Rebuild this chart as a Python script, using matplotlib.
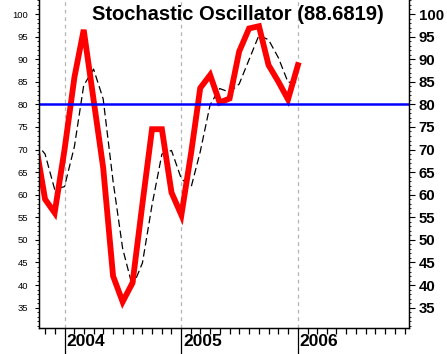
import numpy as np
import matplotlib
matplotlib.use("Agg")
import matplotlib.pyplot as plt
import matplotlib.dates as mdates
import matplotlib.transforms as mtransforms

plt.rcParams['font.family'] = ['Liberation Sans', 'DejaVu Sans']

# monthly values, Oct 2003 .. Jan 2006
months = np.arange('2003-10', '2006-02', dtype='datetime64[M]').astype('datetime64[D]')
stoch_k = [72, 59, 56, 70, 86, 96.5, 81, 66, 42, 36.3, 40.5, 58, 74.5, 74.5,
           60.5, 55.5, 69.5, 83.6, 86.5, 80.4, 81.3, 91.7, 96.8, 97.3, 88.7,
           85, 81.1, 88.68]
stoch_d = [71.7, 69, 61.2, 61.8, 70.7, 84.2, 87.8, 81.2, 63, 48.1, 39.6, 44.9,
           57.7, 69, 69.8, 63.5, 61.8, 69.5, 79.9, 83.5, 82.7, 84.5, 89.9, 95.3,
           94.3, 90.3, 84.9, 84.9]
last_value = 88.6819
signal_level = 80
years = ['2004', '2005', '2006']
y_ticks = list(range(35, 101, 5))

fig = plt.figure(figsize=(4.47, 3.54), dpi=100)
ax = fig.add_axes([39 / 447, 1 - 328 / 354, 370 / 447, 328 / 354])

x = mdates.date2num(months)
ax.plot(x, stoch_d, color='black', lw=0.9, ls=(0, (6, 3)), zorder=3)
ax.plot(x, stoch_k, color='#ff0000', lw=4.2, solid_joinstyle='miter', zorder=4)
ax.axhline(signal_level, color='#0000ff', lw=1.8, zorder=5)

year_nums = [mdates.date2num(np.datetime64(y + '-01-01')) for y in years]
for yn in year_nums:
    ax.axvline(yn, color='#b4b4b4', lw=0.9, ls=(0, (3, 3)), zorder=1)

ax.set_xlim(mdates.date2num(np.datetime64('2003-10-13')), mdates.date2num(np.datetime64('2006-12-15')))
ax.set_ylim(30.5, 103.1)

# x axis: monthly minor ticks, long year ticks
ax.xaxis.set_minor_locator(mdates.MonthLocator())
ax.set_xticks(year_nums)
ax.set_xticklabels([])
ax.tick_params(axis='x', which='minor', length=4.3, width=0.9, direction='out')
ax.tick_params(axis='x', which='major', length=19, width=0.9, direction='out')
trans = mtransforms.blended_transform_factory(ax.transData, fig.transFigure)
for yn, lab in zip(year_nums, years):
    ax.text(yn + 5, 12 / 354, lab, transform=trans, fontsize=12.5, fontweight='bold',
            ha='left', va='center')

# y axis: small labels left, bold labels right
ax.set_yticks(y_ticks)
ax.set_yticks(range(31, 104), minor=True)
ax.set_yticklabels([str(v) for v in y_ticks], fontsize=6.8)
ax.tick_params(axis='y', which='major', length=3, width=0.8, pad=5, labelsize=6.8)
ax.tick_params(axis='y', which='minor', length=1.6, width=0.6)

ax2 = ax.twinx()
ax2.set_ylim(ax.get_ylim())
ax2.set_yticks(y_ticks)
ax2.set_yticks(range(31, 104), minor=True)
ax2.set_yticklabels([str(v) for v in y_ticks], fontsize=10.8, fontweight='bold')
ax2.tick_params(axis='y', which='major', length=4, width=0.8, pad=3)
ax2.tick_params(axis='y', which='minor', length=1.6, width=0.6)

for a in (ax, ax2):
    a.spines['top'].set_visible(False)
    for s in ('left', 'right', 'bottom'):
        a.spines[s].set_linewidth(0.9)

ax.text(0.538, 0.957, f'Stochastic Oscillator ({last_value})', transform=ax.transAxes,
        ha='center', va='center', fontsize=14.5, fontweight='bold', zorder=6)

fig.savefig('out.png', dpi=100)
